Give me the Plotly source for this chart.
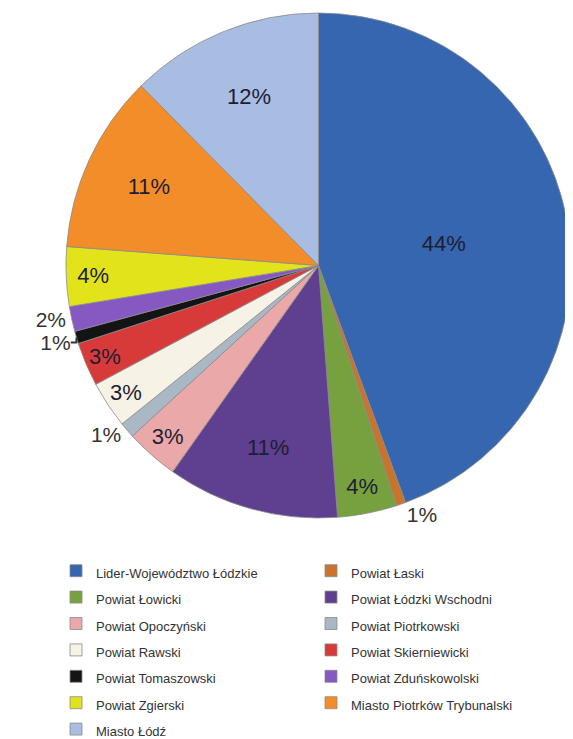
import plotly.graph_objects as go

categories = [
    "Lider-Województwo Łódzkie",
    "Powiat Łaski",
    "Powiat Łowicki",
    "Powiat Łódzki Wschodni",
    "Powiat Opoczyński",
    "Powiat Piotrkowski",
    "Powiat Rawski",
    "Powiat Skierniewicki",
    "Powiat Tomaszowski",
    "Powiat Zduńskowolski",
    "Powiat Zgierski",
    "Miasto Piotrków Trybunalski",
    "Miasto Łódź",
]
shares = [44.4, 0.6, 3.8, 11.0, 3.4, 1.0, 3.0, 2.8, 0.8, 1.6, 3.8, 11.4, 12.4]
colors = [
    "#3766B0", "#C8742C", "#77A13E", "#5F3F8F", "#EBA8A8", "#AAB8C5",
    "#F6F2E6", "#D83A3A", "#141414", "#8659C2", "#E3E31C", "#F28D2A", "#A9BDE2",
]
positions = ["inside", "outside", "inside", "inside", "inside", "outside", "inside",
             "inside", "outside", "outside", "inside", "inside", "inside"]

legend_labels = ['<span style="font-size:13px">%s</span>' % c for c in categories]

# page body has an 8px default margin: figure is sized to fill the rest of the window
W, H = 565, 731

fig = go.Figure(go.Pie(
    labels=legend_labels,
    values=shares,
    sort=False,
    direction="clockwise",
    rotation=0,
    marker=dict(colors=colors, line=dict(color="#8a8a8a", width=0.8)),
    texttemplate="%{percent:.0%}",
    textposition=positions,
    insidetextorientation="horizontal",
    textfont=dict(family="Liberation Sans, Arial, sans-serif", size=22, color="#1d1d33"),
    outsidetextfont=dict(family="Liberation Sans, Arial, sans-serif", size=21, color="#333333"),
    domain=dict(x=[57.5 / W, 563.5 / W], y=[1 - 510 / H, 1 - 5 / H]),
    hoverinfo="label+percent",
))

fig.update_layout(
    width=W, height=H,
    margin=dict(l=0, r=0, t=0, b=0, autoexpand=False),
    paper_bgcolor="white",
    plot_bgcolor="white",
    showlegend=True,
    legend=dict(
        orientation="h",
        x=48 / W, xanchor="left",
        y=1 - 544.5 / H, yanchor="top",
        entrywidth=210,
        font=dict(family="Liberation Sans, Arial, sans-serif", size=18, color="#333333"),
        bgcolor="rgba(0,0,0,0)",
    ),
)

fig.write_html("out.html")
